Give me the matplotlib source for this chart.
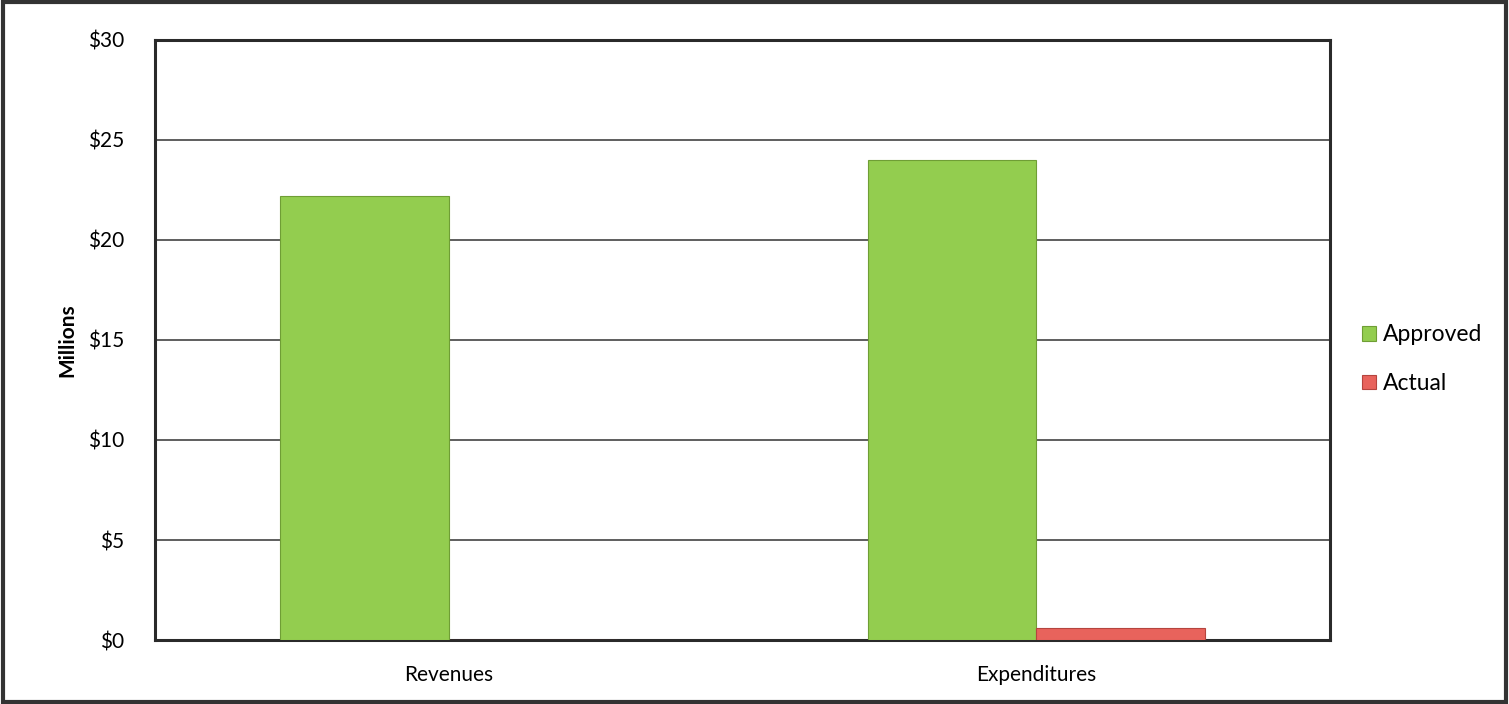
import matplotlib.pyplot as plt
import numpy as np

categories = ["Revenues", "Expenditures"]
approved = [22.2, 24.0]
actual = [0.0, 0.6]
y_ticks = [0, 5, 10, 15, 20, 25, 30]

plt.rcParams["font.family"] = ["Lato", "DejaVu Sans"]

fig = plt.figure(figsize=(15.09, 7.04), dpi=100)
ax = fig.add_axes([0.1027, 0.0909, 0.7787, 0.8523])

x = np.arange(len(categories))
w = 0.287

ax.bar(x - w / 2, approved, w, color="#93cd4f", edgecolor="#6f9e35",
       linewidth=0.8, label="Approved", zorder=3)
ax.bar(x + w / 2, actual, w, color="#e8635c", edgecolor="#b5443e",
       linewidth=0.8, label="Actual", zorder=3)

ax.set_xlim(-0.5, 1.5)
ax.set_ylim(0, 30)
ax.set_yticks(y_ticks)
ax.set_yticklabels([f"${v}" for v in y_ticks])
ax.set_xticks(x)
ax.set_xticklabels(categories)
ax.tick_params(axis="both", length=0, labelsize=15)
ax.tick_params(axis="y", pad=22)
ax.tick_params(axis="x", pad=18)

ax.grid(axis="y", color="#333333", linewidth=1.1, zorder=0)
for s in ax.spines.values():
    s.set_linewidth(2.2)
    s.set_color("#2a2a2a")

ax.set_ylabel("Millions", fontsize=15, fontweight="bold", labelpad=8)

ax.legend(loc="center left", bbox_to_anchor=(1.01, 0.468), frameon=False,
          fontsize=16.5, handlelength=0.6, handleheight=0.6,
          handletextpad=0.3, labelspacing=1.2)

fig.patches.append(plt.Rectangle((0.002, 0.003), 0.996, 0.994,
                                 transform=fig.transFigure, fill=False,
                                 edgecolor="#333333", linewidth=3))

fig.savefig("out.png", dpi=100)
